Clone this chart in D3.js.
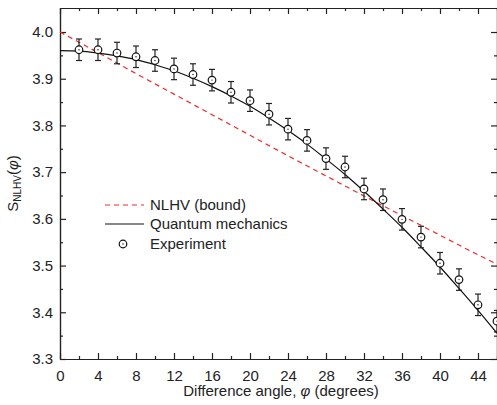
<!DOCTYPE html>
<html>
<head>
<meta charset="utf-8">
<script src="https://cdn.jsdelivr.net/npm/d3@7"></script>
<style>
  body { margin: 0; background: #fff; }
  svg { display: block; font-family: "Liberation Sans", Arial, sans-serif; }
  .axis path, .axis line { stroke: #222; stroke-width: 1.2; }
  .axis text { fill: #222; }
</style>
</head>
<body>
<div id="chart"></div>
<script>
// Experiment points (phi in degrees)
const expAngles = [2, 4, 6, 8, 10, 12, 14, 16, 18, 20, 22, 24, 26, 28, 30, 32, 34, 36, 38, 40, 42, 44, 46];
const expValues = [3.962, 3.962, 3.955, 3.947, 3.939, 3.921, 3.909, 3.897, 3.871, 3.853, 3.824, 3.792,
                   3.768, 3.729, 3.711, 3.664, 3.641, 3.599, 3.561, 3.505, 3.470, 3.416, 3.381];
const expErrors = [0.023, 0.023, 0.023, 0.023, 0.023, 0.023, 0.023, 0.023, 0.023, 0.023, 0.023, 0.023,
                   0.023, 0.023, 0.023, 0.023, 0.023, 0.023, 0.023, 0.023, 0.023, 0.023, 0.023];

// Quantum mechanics curve
const qmAngles = [0, 2, 4, 6, 8, 10, 12, 14, 16, 18, 20, 22, 24, 26, 28, 30, 32, 34, 36, 38, 40, 42, 44, 46];
const qmValues = [3.960, 3.959, 3.955, 3.949, 3.941, 3.930, 3.917, 3.901, 3.883, 3.863, 3.841, 3.816,
                  3.789, 3.760, 3.728, 3.695, 3.659, 3.621, 3.582, 3.540, 3.497, 3.451, 3.404, 3.355];

// NLHV bound curve
const nlhvAngles = [0, 4, 8, 12, 16, 20, 24, 28, 32, 36, 40, 44, 46];
const nlhvValues = [4.000, 3.956, 3.911, 3.867, 3.823, 3.779, 3.735, 3.692, 3.649, 3.607, 3.565, 3.523, 3.503];

const xMajor = [0, 4, 8, 12, 16, 20, 24, 28, 32, 36, 40, 44];
const xMinor = [2, 6, 10, 14, 18, 22, 26, 30, 34, 38, 42, 46];
const yMajor = [3.3, 3.4, 3.5, 3.6, 3.7, 3.8, 3.9, 4.0];
const yMinor = [3.35, 3.45, 3.55, 3.65, 3.75, 3.85, 3.95];

const legendItems = ['NLHV (bound)', 'Quantum mechanics', 'Experiment'];

const width = 497, height = 405;
const margin = { left: 60, right: 0, top: 8, bottom: 46 };
const fontSize = 15;

const svg = d3.select('#chart').append('svg')
    .attr('width', width)
    .attr('height', height);

const x = d3.scaleLinear().domain([0, 46]).range([margin.left, width - margin.right]);
const y = d3.scaleLinear().domain([3.3, 4.0514]).range([height - margin.bottom, margin.top]);

const x0 = x.range()[0], x1 = x.range()[1];
const y0 = y.range()[0], y1 = y.range()[1];

// Axes: ticks point inward on all four sides
function addAxis(axis, tx, ty) {
    return svg.append('g').attr('class', 'axis').attr('transform', `translate(${tx},${ty})`).call(axis);
}

addAxis(d3.axisBottom(x).tickValues(xMajor).tickFormat(d3.format('d')).tickSize(-6).tickSizeOuter(0).tickPadding(11), 0, y0);
addAxis(d3.axisBottom(x).tickValues(xMinor).tickFormat('').tickSize(-3).tickSizeOuter(0), 0, y0);
addAxis(d3.axisTop(x).tickValues(xMajor).tickFormat('').tickSize(-6).tickSizeOuter(0), 0, y1);
addAxis(d3.axisTop(x).tickValues(xMinor).tickFormat('').tickSize(-3).tickSizeOuter(0), 0, y1);

addAxis(d3.axisLeft(y).tickValues(yMajor).tickFormat(d3.format('.1f')).tickSize(-6).tickSizeOuter(0).tickPadding(7), x0, 0);
addAxis(d3.axisLeft(y).tickValues(yMinor).tickFormat('').tickSize(-3).tickSizeOuter(0), x0, 0);
addAxis(d3.axisRight(y).tickValues(yMajor).tickFormat('').tickSize(-6).tickSizeOuter(0), x1, 0);
addAxis(d3.axisRight(y).tickValues(yMinor).tickFormat('').tickSize(-3).tickSizeOuter(0), x1, 0);

svg.selectAll('.axis').attr('font-size', fontSize).attr('font-family', null);

// Curves
const line = d3.line().x(d => x(d[0])).y(d => y(d[1])).curve(d3.curveMonotoneX);

svg.append('path')
    .datum(nlhvAngles.map((a, i) => [a, nlhvValues[i]]))
    .attr('d', line)
    .attr('fill', 'none')
    .attr('stroke', '#ee2a2a')
    .attr('stroke-width', 1.2)
    .attr('stroke-dasharray', '5,4');

svg.append('path')
    .datum(qmAngles.map((a, i) => [a, qmValues[i]]))
    .attr('d', line)
    .attr('fill', 'none')
    .attr('stroke', '#111')
    .attr('stroke-width', 1.2);

// Experiment: error bars + circles with a centre dot
const pts = expAngles.map((a, i) => ({ a, v: expValues[i], e: expErrors[i] }));
const capW = 3;
const eg = svg.append('g').attr('stroke', '#222').attr('stroke-width', 1.2);
pts.forEach(p => {
    const cx = x(p.a), top = y(p.v + p.e), bot = y(p.v - p.e);
    eg.append('line').attr('x1', cx).attr('x2', cx).attr('y1', top).attr('y2', bot);
    eg.append('line').attr('x1', cx - capW).attr('x2', cx + capW).attr('y1', top).attr('y2', top);
    eg.append('line').attr('x1', cx - capW).attr('x2', cx + capW).attr('y1', bot).attr('y2', bot);
});

function drawMarker(g, cx, cy) {
    g.append('circle').attr('cx', cx).attr('cy', cy).attr('r', 3.8)
        .attr('fill', '#fff').attr('stroke', '#111').attr('stroke-width', 1.2);
    g.append('circle').attr('cx', cx).attr('cy', cy).attr('r', 0.7).attr('fill', '#111');
}
const mg = svg.append('g');
pts.forEach(p => drawMarker(mg, x(p.a), y(p.v)));

// Legend
const lg = svg.append('g').attr('font-size', fontSize).attr('fill', '#222');
const legY = [205, 224, 244];
lg.append('line').attr('x1', 105).attr('x2', 144).attr('y1', legY[0]).attr('y2', legY[0])
    .attr('stroke', '#ee2a2a').attr('stroke-width', 1.2).attr('stroke-dasharray', '5,4');
lg.append('line').attr('x1', 105).attr('x2', 144).attr('y1', legY[1]).attr('y2', legY[1])
    .attr('stroke', '#111').attr('stroke-width', 1.2);
drawMarker(lg, 123, legY[2]);
legendItems.forEach((t, i) => {
    lg.append('text').attr('x', 150).attr('y', legY[i]).attr('dy', '0.35em').text(t);
});

// Axis titles
svg.append('text')
    .attr('x', 281).attr('y', 396)
    .attr('text-anchor', 'middle').attr('font-size', fontSize).attr('fill', '#222')
    .html('Difference angle, <tspan font-style="italic">φ</tspan> (degrees)');

const yt = svg.append('text')
    .attr('transform', `translate(18,${(y0 + y1) / 2}) rotate(-90)`)
    .attr('text-anchor', 'middle').attr('font-size', fontSize).attr('fill', '#222');
yt.append('tspan').text('S');
yt.append('tspan').attr('font-size', 10).attr('dy', 3).text('NLHV');
yt.append('tspan').attr('dy', -3).text('(');
yt.append('tspan').attr('font-style', 'italic').text('φ');
yt.append('tspan').text(')');
</script>
</body>
</html>
